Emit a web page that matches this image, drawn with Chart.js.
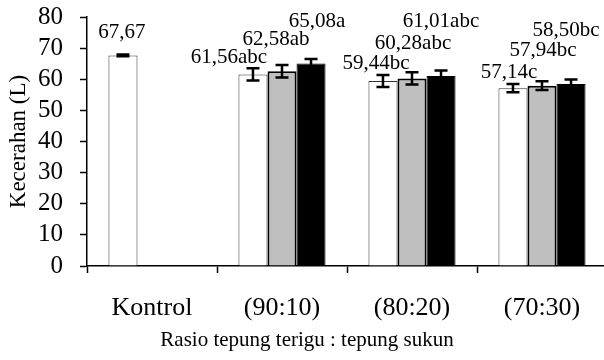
<!DOCTYPE html>
<html>
<head>
<meta charset="utf-8">
<script src="https://cdn.jsdelivr.net/npm/chart.js@4.4.1/dist/chart.umd.min.js"></script>
<style>
    html, body { margin: 0; padding: 0; background: #fff; overflow: hidden; }
    #wrap { width: 612px; height: 360px; position: relative; }
</style>
</head>
<body>
<div id="wrap"><canvas id="chart"></canvas></div>
<script>
// Data
const categories = ['Kontrol', '(90:10)', '(80:20)', '(70:30)'];
const whiteValues = [67.67, 61.56, 59.44, 57.14];
const grayValues  = [null, 62.58, 60.28, 57.94];
const blackValues = [null, 65.08, 61.01, 58.50];
const whiteErrors = [0.3, 2.0, 1.9, 1.3];
const grayErrors  = [null, 2.0, 2.0, 1.4];
const blackErrors = [null, 1.4, 1.8, 1.4];
const whiteLetters = ['', 'abc', 'bc', 'c'];
const grayLetters  = ['', 'ab', 'abc', 'bc'];
const blackLetters = ['', 'a', 'abc', 'bc'];
const yMin = 0, yMax = 80, yStep = 10;
const xTitle = 'Rasio tepung terigu : tepung sukun';
const yTitle = 'Kecerahan (L)';

// label nudges (px), relative to the top of the error bar
const labelDx = [[-1, -24, -7, -4], [0, -6, 1, 1], [0, 6, 0, -5]];
const labelDy = [[22, 11, 12, 12], [0, 26, 29, 31], [0, 38, 49, 49]];

const FONT = "'Liberation Serif', 'Times New Roman', serif";

function fmt(v) {
    return v.toFixed(2).replace('.', ',');
}

// error bars + value labels
const errorBarPlugin = {
    id: 'errorBars',
    afterDatasetsDraw(chart) {
        const ctx = chart.ctx;
        const y = chart.scales.y;
        chart.data.datasets.forEach(function(ds, di) {
            const meta = chart.getDatasetMeta(di);
            meta.data.forEach(function(bar, i) {
                const v = ds.data[i];
                if (v === null || v === undefined) return;
                const e = ds.errors[i] || 0;
                const top = y.getPixelForValue(v + e);
                const bot = y.getPixelForValue(v - e);
                ctx.save();
                ctx.strokeStyle = '#000';
                ctx.lineWidth = 2.5;
                ctx.beginPath();
                ctx.moveTo(bar.x, top);
                ctx.lineTo(bar.x, bot);
                ctx.moveTo(bar.x - 6.5, top);
                ctx.lineTo(bar.x + 6.5, top);
                ctx.moveTo(bar.x - 6.5, bot);
                ctx.lineTo(bar.x + 6.5, bot);
                ctx.stroke();

                ctx.fillStyle = '#000';
                ctx.font = '21px ' + FONT;
                ctx.textAlign = 'center';
                ctx.textBaseline = 'middle';
                ctx.fillText(fmt(v) + ds.letters[i], bar.x + labelDx[di][i], top - labelDy[di][i]);
                ctx.restore();
            });
        });
    }
};

// x axis title, centred on the page rather than on the plot area
const xTitlePlugin = {
    id: 'xTitle',
    afterDraw(chart) {
        const ctx = chart.ctx;
        const area = chart.chartArea;
        ctx.save();
        ctx.fillStyle = '#000';
        ctx.font = '21px ' + FONT;
        ctx.textAlign = 'center';
        ctx.textBaseline = 'middle';
        ctx.fillText(xTitle, (area.left + area.right) / 2 - 40, area.bottom + 74);
        ctx.restore();
    }
};

const ctx = document.getElementById('chart');
new Chart(ctx, {
    type: 'bar',
    data: {
        labels: categories,
        datasets: [{
            data: whiteValues,
            errors: whiteErrors,
            letters: whiteLetters,
            backgroundColor: '#ffffff',
            borderColor: '#333333',
            borderWidth: 1
        }, {
            data: grayValues,
            errors: grayErrors,
            letters: grayLetters,
            backgroundColor: '#bfbfbf',
            borderColor: '#000000',
            borderWidth: 2
        }, {
            data: blackValues,
            errors: blackErrors,
            letters: blackLetters,
            backgroundColor: '#000000',
            borderColor: '#000000',
            borderWidth: 1
        }]
    },
    options: {
        responsive: true,
        maintainAspectRatio: false,
        animation: false,
        datasets: {
            bar: { categoryPercentage: 0.67, barPercentage: 1.0 }
        },
        layout: { padding: { top: 17, right: 5, left: 0, bottom: 0 } },
        plugins: {
            legend: { display: false },
            tooltip: { enabled: false }
        },
        scales: {
            x: {
                grid: {
                    display: true,
                    drawOnChartArea: false,
                    drawTicks: true,
                    tickLength: 7,
                    tickColor: '#000',
                    tickWidth: 1.5,
                    offset: true
                },
                border: { color: '#000', width: 1.5 },
                ticks: {
                    color: '#000',
                    padding: 20,
                    autoSkip: false,
                    maxRotation: 0,
                    font: { family: FONT, size: 26 }
                },
                title: { display: false },
                afterFit(scale) { scale.height = 94; }
            },
            y: {
                min: yMin,
                max: yMax,
                grid: {
                    display: true,
                    drawOnChartArea: false,
                    drawTicks: true,
                    tickLength: 7,
                    tickColor: '#000',
                    tickWidth: 1.5
                },
                border: { color: '#000', width: 1.5 },
                ticks: {
                    stepSize: yStep,
                    autoSkip: false,
                    color: '#000',
                    padding: 17,
                    font: { family: FONT, size: 25 }
                },
                title: {
                    display: true,
                    text: yTitle,
                    color: '#000',
                    font: { family: FONT, size: 23 },
                    padding: { top: 5, bottom: 0 }
                },
                afterFit(scale) {
                    scale.width = 87;
                    scale.paddingTop = 0;
                    scale.paddingBottom = 0;
                }
            }
        }
    },
    plugins: [errorBarPlugin, xTitlePlugin]
});
</script>
</body>
</html>
